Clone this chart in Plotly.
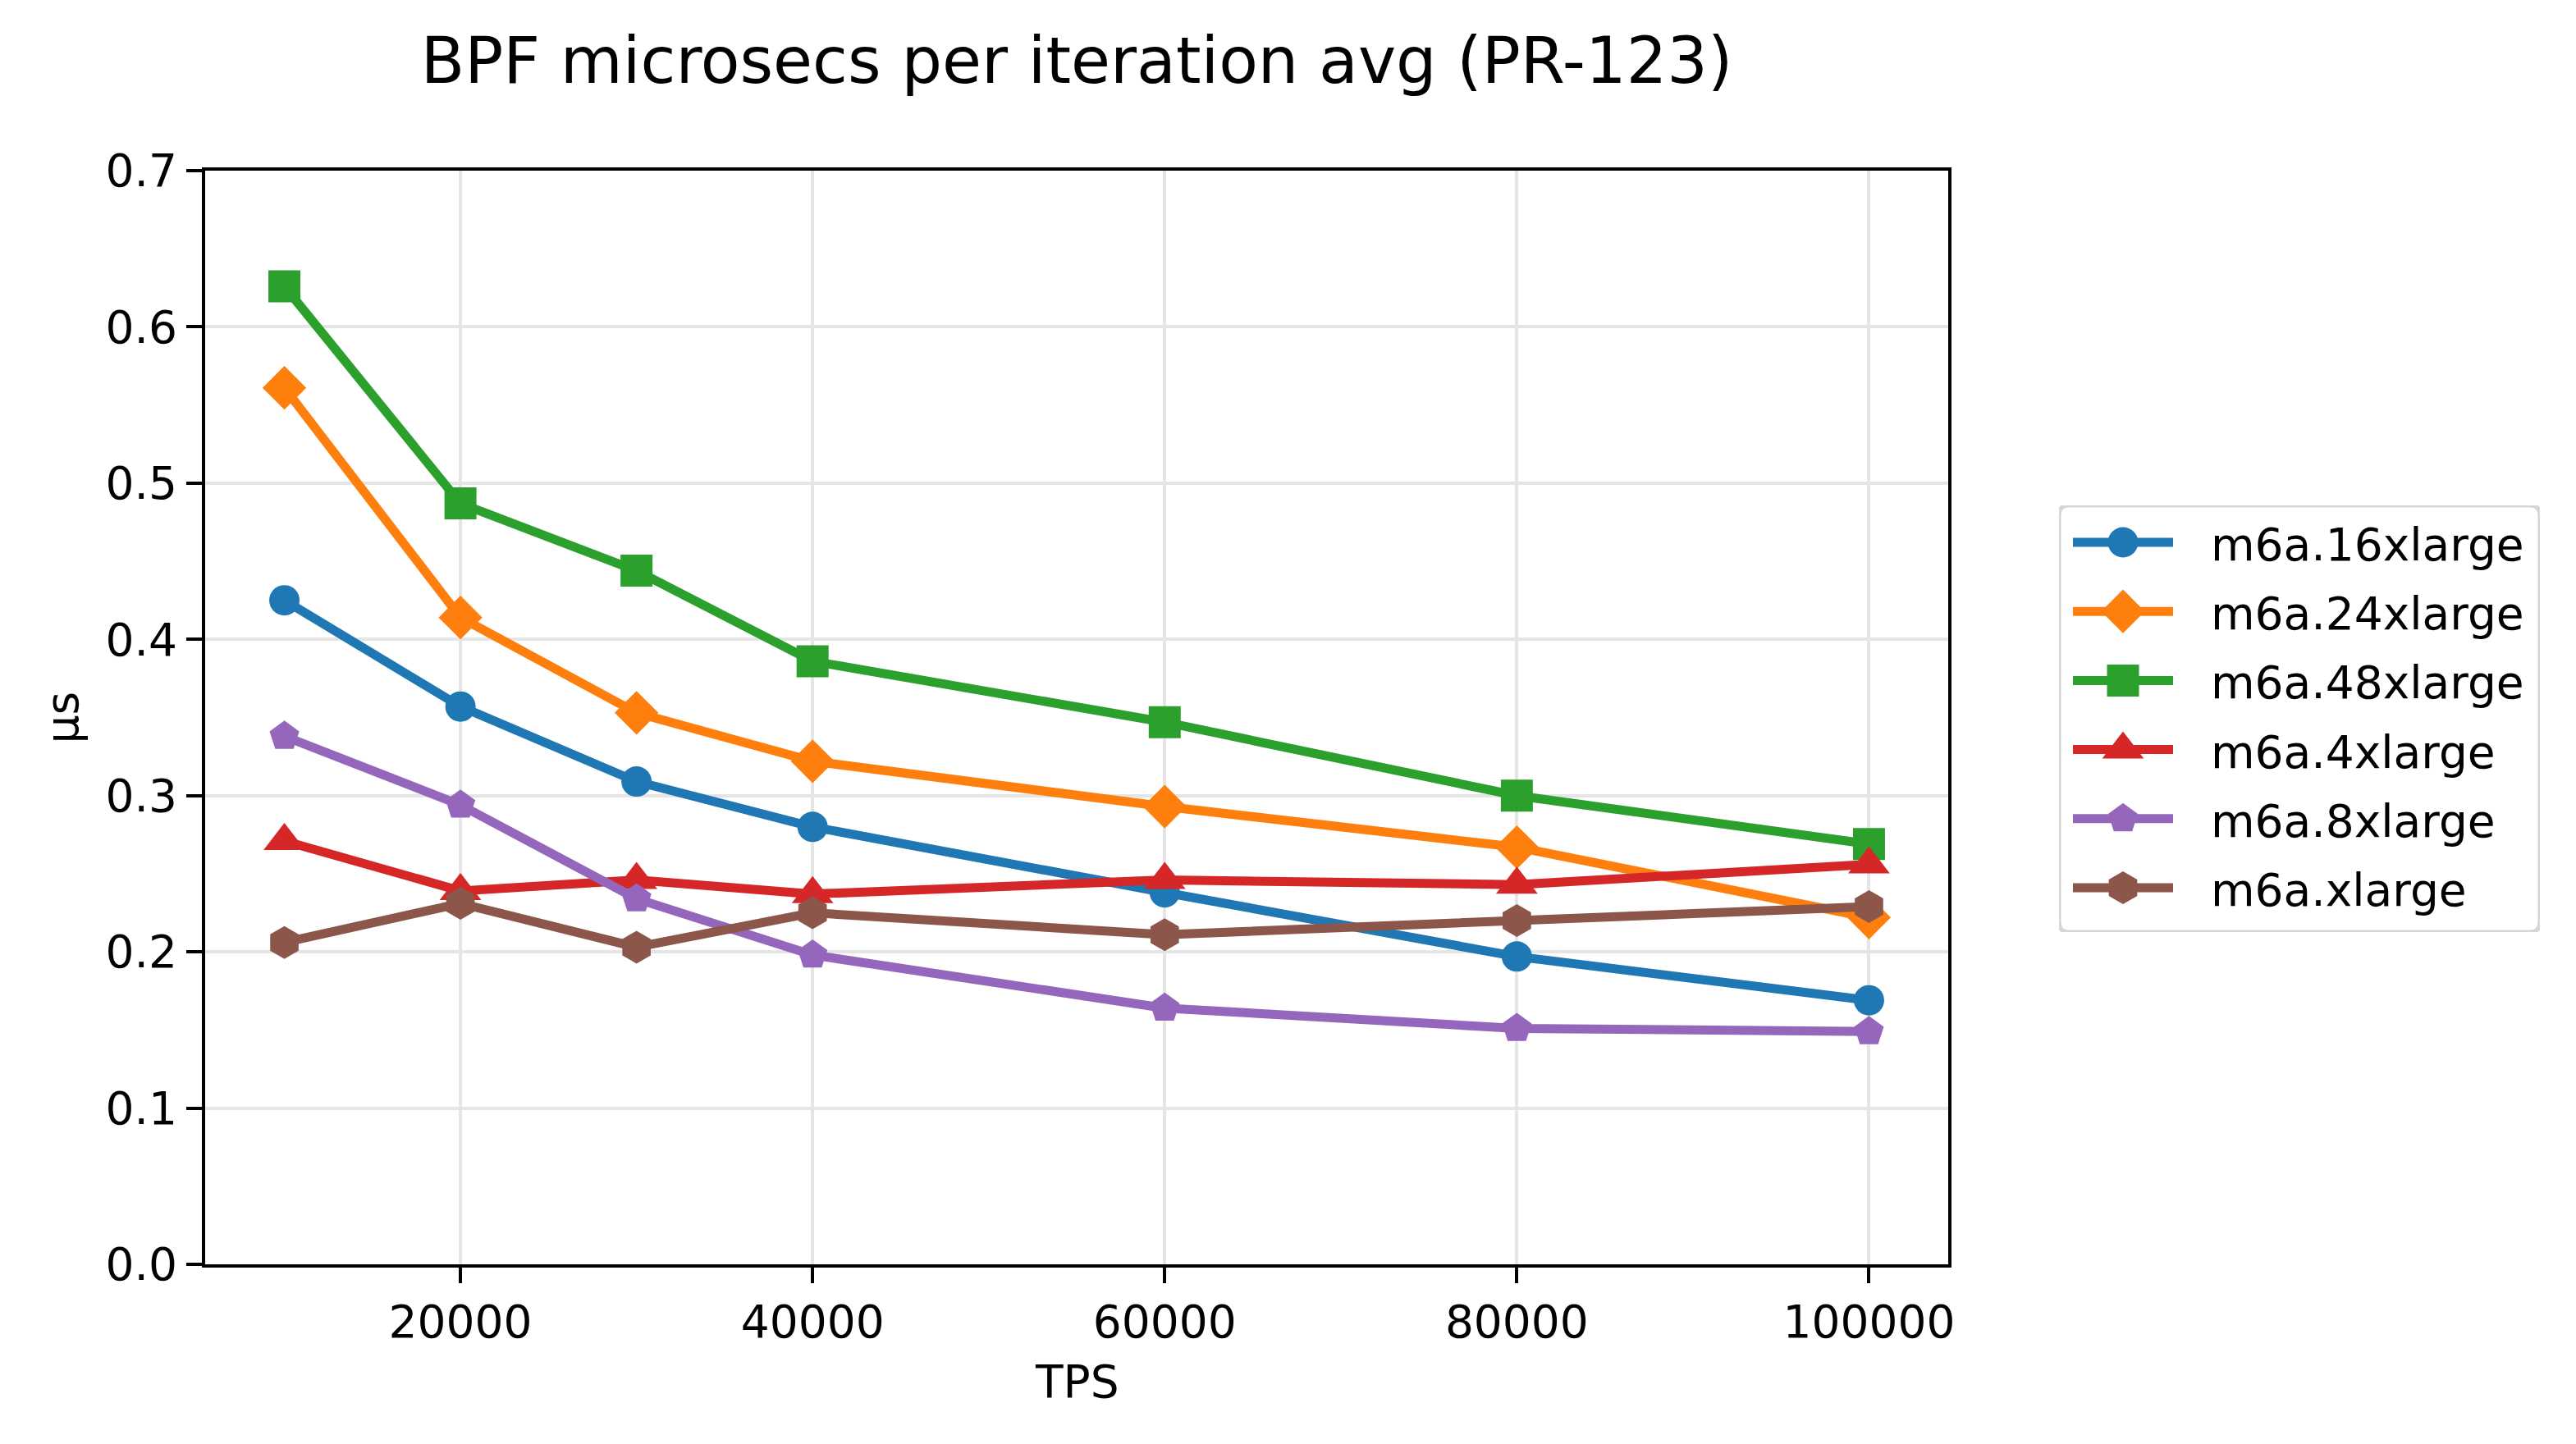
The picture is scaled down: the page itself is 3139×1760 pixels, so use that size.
import plotly.graph_objects as go

tps = [10000, 20000, 30000, 40000, 60000, 80000, 100000]

series_names = ["m6a.16xlarge", "m6a.24xlarge", "m6a.48xlarge", "m6a.4xlarge", "m6a.8xlarge", "m6a.xlarge"]
m6a_16xlarge = [0.425, 0.357, 0.309, 0.280, 0.238, 0.197, 0.169]
m6a_24xlarge = [0.561, 0.414, 0.353, 0.322, 0.293, 0.267, 0.222]
m6a_48xlarge = [0.626, 0.487, 0.444, 0.386, 0.347, 0.300, 0.269]
m6a_4xlarge = [0.271, 0.239, 0.246, 0.237, 0.246, 0.243, 0.256]
m6a_8xlarge = [0.338, 0.294, 0.234, 0.198, 0.164, 0.151, 0.149]
m6a_xlarge = [0.206, 0.231, 0.203, 0.225, 0.211, 0.220, 0.229]

y_ticks = [0.0, 0.1, 0.2, 0.3, 0.4, 0.5, 0.6, 0.7]
x_ticks = [20000, 40000, 60000, 80000, 100000]

values = [m6a_16xlarge, m6a_24xlarge, m6a_48xlarge, m6a_4xlarge, m6a_8xlarge, m6a_xlarge]
colors = ["#1f77b4", "#ff7f0e", "#2ca02c", "#d62728", "#9467bd", "#8c564b"]
symbols = ["circle", "diamond", "square", "triangle-up", "pentagon", "hexagon"]
sizes = [37, 41, 39, 44, 38, 40]

FONT = "DejaVu Sans"
W, H = 3139, 1760

# main plot area (pixels)
PX0, PX1, PY0, PY1 = 250, 2374, 208, 1541
# legend box (pixels)
LX0, LX1, LY0, LY1 = 2509, 3095, 616, 1136

fig = go.Figure()
for name, vals, c, s, sz in zip(series_names, values, colors, symbols, sizes):
    fig.add_trace(go.Scatter(
        x=tps, y=vals, name=name, mode="lines+markers",
        line=dict(color=c, width=11),
        marker=dict(color=c, symbol=s, size=sz, line=dict(width=0)),
        showlegend=False, xaxis="x", yaxis="y",
    ))

# custom legend drawn on a hidden helper axis (pixel coordinates)
row0, row_step = 661, 84.2
annotations = []
for i, (name, c, s, sz) in enumerate(zip(series_names, colors, symbols, sizes)):
    ry = row0 + i * row_step
    fig.add_trace(go.Scatter(
        x=[2526, 2648], y=[ry, ry], mode="lines",
        line=dict(color=c, width=11), showlegend=False, hoverinfo="skip",
        xaxis="x2", yaxis="y2",
    ))
    fig.add_trace(go.Scatter(
        x=[2587], y=[ry], mode="markers",
        marker=dict(color=c, symbol=s, size=sz, line=dict(width=0)),
        showlegend=False, hoverinfo="skip", xaxis="x2", yaxis="y2",
    ))
    annotations.append(dict(
        text=name, x=2692, y=ry + 3, xref="x2", yref="y2",
        xanchor="left", yanchor="middle", showarrow=False,
        font=dict(family=FONT, size=55, color="black"),
    ))

r = 12
path = (f"M {LX0 + r},{LY0} L {LX1 - r},{LY0} Q {LX1},{LY0} {LX1},{LY0 + r} "
        f"L {LX1},{LY1 - r} Q {LX1},{LY1} {LX1 - r},{LY1} "
        f"L {LX0 + r},{LY1} Q {LX0},{LY1} {LX0},{LY1 - r} "
        f"L {LX0},{LY0 + r} Q {LX0},{LY0} {LX0 + r},{LY0} Z")

annotations += [
    dict(text="TPS", x=(PX0 + PX1) / 2 / W, xref="paper", y=1 - 1684 / H, yref="paper",
         showarrow=False, xanchor="center", yanchor="middle",
         font=dict(family=FONT, size=55, color="black")),
    dict(text="µs", x=76 / W, xref="paper", y=1 - (PY0 + PY1) / 2 / H, yref="paper",
         showarrow=False, xanchor="center", yanchor="middle", textangle=-90,
         font=dict(family=FONT, size=55, color="black")),
]

axis_common = dict(
    showgrid=True, gridcolor="#e5e5e5", gridwidth=4,
    showline=True, linecolor="black", linewidth=4, mirror=True,
    ticks="outside", ticklen=19, tickwidth=4, tickcolor="black",
    zeroline=False, tickfont=dict(family=FONT, size=55, color="black"),
)

fig.update_layout(
    width=W, height=H,
    margin=dict(l=0, r=0, t=0, b=0, autoexpand=False),
    paper_bgcolor="white", plot_bgcolor="white",
    font=dict(family=FONT, size=55, color="black"),
    title=dict(text="BPF microsecs per iteration avg (PR-123)",
               font=dict(family=FONT, size=78, color="black"),
               x=(PX0 + PX1) / 2 / W, xref="paper", xanchor="center",
               y=1 - 74 / H, yref="container", yanchor="middle"),
    showlegend=False,
    xaxis=dict(domain=[PX0 / W, PX1 / W], anchor="y",
               range=[5500, 104500], tickvals=x_ticks, tickformat="d", **axis_common),
    yaxis=dict(domain=[1 - PY1 / H, 1 - PY0 / H], anchor="x",
               range=[0, 0.7], tickvals=y_ticks, tickformat=".1f", **axis_common),
    xaxis2=dict(domain=[LX0 / W, LX1 / W], anchor="y2", range=[LX0, LX1],
                visible=False, fixedrange=True),
    yaxis2=dict(domain=[1 - LY1 / H, 1 - LY0 / H], anchor="x2", range=[LY1, LY0],
                visible=False, fixedrange=True),
    shapes=[dict(type="path", path=path, xref="x2", yref="y2",
                 line=dict(color="#d6d6d6", width=5), fillcolor="rgba(255,255,255,0)",
                 layer="below")],
    annotations=annotations,
)

fig.write_html("out.html")
